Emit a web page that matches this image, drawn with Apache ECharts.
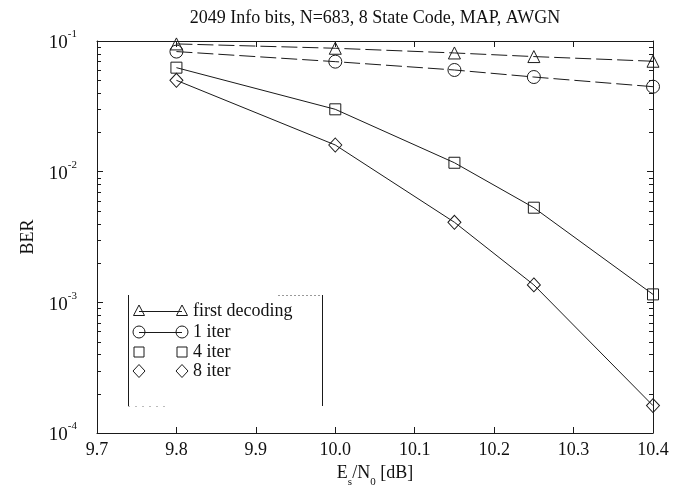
<!DOCTYPE html>
<html><head><meta charset="utf-8">
<script src="https://cdn.jsdelivr.net/npm/echarts@6/dist/echarts.min.js"></script>
<style>html,body{margin:0;padding:0;background:#fff}#c{width:684px;height:493px}</style>
</head><body><div id="c"></div>
<script>
// ---- data ----
const xValues = [9.8, 10.0, 10.15, 10.25, 10.4];
const firstDecoding = [0.095, 0.088, 0.081, 0.076, 0.070];
const iter1 = [0.083, 0.0695, 0.060, 0.053, 0.0447];
const iter4 = [0.0625, 0.030, 0.0117, 0.0053, 0.00115];
const iter8 = [0.050, 0.016, 0.0041, 0.00136, 0.000162];
const seriesNames = ['first decoding', '1 iter', '4 iter', '8 iter'];
const titleText = '2049 Info bits, N=683, 8 State Code, MAP, AWGN';
const xMin = 9.7, xMax = 10.4, xStep = 0.1;
const yMin = 1e-4, yMax = 1e-1;

const INK = '#1a1a1a';
const FONT = '"Liberation Serif", "DejaVu Serif", serif';

function pts(arr) { return xValues.map((x, i) => [x, arr[i]]); }

const triPath = 'path://M0,-1L0.9,0.75L-0.9,0.75Z';

const seriesDefs = [
  { name: seriesNames[0], data: firstDecoding, symbol: triPath, size: [12, 12], dash: [16, 5] },
  { name: seriesNames[1], data: iter1, symbol: 'circle', size: 13, dash: [16, 5] },
  { name: seriesNames[2], data: iter4, symbol: 'rect', size: 11, dash: 'solid' },
  { name: seriesNames[3], data: iter8, symbol: 'diamond', size: [13, 14], dash: 'solid' }
];

const chart = echarts.init(document.getElementById('c'), null, { renderer: 'canvas' });

const axisLineStyle = { color: INK, width: 1 };

const option = {
  animation: false,
  backgroundColor: '#fff',
  grid: { left: 97, right: 31, top: 41, bottom: 60 },
  xAxis: [
    {
      type: 'value', min: xMin, max: xMax, interval: xStep, position: 'bottom',
      axisLine: { lineStyle: axisLineStyle },
      axisTick: { inside: true, length: 6, lineStyle: axisLineStyle },
      splitLine: { show: false },
      axisLabel: { formatter: v => v.toFixed(1), fontFamily: FONT, fontSize: 18, color: '#111', margin: 8 },
      name: '{n|E}{s|s}{n|/N}{s|0}{n| [dB]}',
      nameLocation: 'middle', nameGap: 27,
      nameTextStyle: {
        rich: {
          n: { fontFamily: FONT, fontSize: 18, color: '#111', lineHeight: 20, verticalAlign: 'top' },
          s: { fontFamily: FONT, fontSize: 11, color: '#111', lineHeight: 12, verticalAlign: 'bottom', padding: [0, 0, -4, 0] }
        }
      }
    },
    {
      type: 'value', min: xMin, max: xMax, interval: xStep, position: 'top',
      axisLine: { lineStyle: axisLineStyle },
      axisTick: { inside: true, length: 6, lineStyle: axisLineStyle },
      axisLabel: { show: false }, splitLine: { show: false }
    }
  ],
  yAxis: [
    {
      type: 'log', logBase: 10, min: yMin, max: yMax, splitNumber: 3, position: 'left',
      axisLine: { lineStyle: axisLineStyle },
      axisTick: { inside: true, length: 6, lineStyle: axisLineStyle },
      splitLine: { show: false },
      axisLabel: {
        margin: 20,
        formatter: v => '{b|10}{s|' + Math.round(Math.log10(v)) + '}',
        rich: {
          b: { fontFamily: FONT, fontSize: 19, color: '#111', lineHeight: 24, verticalAlign: 'bottom' },
          s: { fontFamily: FONT, fontSize: 11, color: '#111', lineHeight: 12, verticalAlign: 'top' }
        }
      },
      name: 'BER', nameLocation: 'middle', nameGap: 60,
      nameTextStyle: { fontFamily: FONT, fontSize: 18, color: '#111' }
    },
    {
      type: 'log', logBase: 10, min: yMin, max: yMax, splitNumber: 3, position: 'right',
      axisLine: { lineStyle: axisLineStyle },
      axisTick: { inside: true, length: 6, lineStyle: axisLineStyle },
      axisLabel: { show: false }, splitLine: { show: false }
    }
  ],
  series: seriesDefs.map(d => ({
    name: d.name, type: 'line', xAxisIndex: 0, yAxisIndex: 0,
    data: pts(d.data),
    symbol: d.symbol, symbolSize: d.size, showSymbol: true,
    lineStyle: { color: INK, width: 1, type: d.dash },
    itemStyle: { color: 'rgba(0,0,0,0)', borderColor: INK, borderWidth: 1 },
    emphasis: { disabled: true },
    z: 3
  }))
};

chart.setOption(option);

// ---- minor log ticks (positions from the library's scale) ----
const gfx = [];
const xl = chart.convertToPixel({ xAxisIndex: 0 }, xMin);
const xr = chart.convertToPixel({ xAxisIndex: 0 }, xMax);
for (let d = -4; d < -1; d++) {
  for (let m = 2; m <= 9; m++) {
    const y = Math.round(chart.convertToPixel({ yAxisIndex: 0 }, m * Math.pow(10, d))) + 0.5;
    gfx.push({ type: 'line', shape: { x1: xl, y1: y, x2: xl + 4, y2: y }, style: { stroke: INK, lineWidth: 1 }, silent: true });
    gfx.push({ type: 'line', shape: { x1: xr, y1: y, x2: xr - 4, y2: y }, style: { stroke: INK, lineWidth: 1 }, silent: true });
  }
}

// ---- title ----
gfx.push({
  type: 'text', x: (xl + xr) / 2, y: 18,
  style: { text: titleText, font: '18px ' + FONT, fill: '#111', align: 'center', verticalAlign: 'middle' }
});

// ---- legend box ----
const lg = { left: 128, top: 295, right: 322, bottom: 406, x1: 139, x2: 182, tx: 193, rows: [311, 332, 352, 371] };
gfx.push({ type: 'line', shape: { x1: lg.left + 0.5, y1: lg.top, x2: lg.left + 0.5, y2: lg.bottom }, style: { stroke: INK, lineWidth: 1 } });
gfx.push({ type: 'line', shape: { x1: lg.right + 0.5, y1: lg.top, x2: lg.right + 0.5, y2: lg.bottom }, style: { stroke: INK, lineWidth: 1 } });
gfx.push({ type: 'line', shape: { x1: 278, y1: lg.top + 0.5, x2: lg.right, y2: lg.top + 0.5 }, style: { stroke: '#999', lineWidth: 1, lineDash: [2, 2] } });
gfx.push({ type: 'line', shape: { x1: lg.left, y1: lg.bottom + 0.5, x2: 165, y2: lg.bottom + 0.5 }, style: { stroke: '#bbb', lineWidth: 1, lineDash: [2, 5] } });

function marker(kind, cx, cy) {
  const st = { fill: 'none', stroke: INK, lineWidth: 1 };
  if (kind === 0) return { type: 'polygon', shape: { points: [[cx, cy - 6], [cx + 5.5, cy + 4.5], [cx - 5.5, cy + 4.5]] }, style: st };
  if (kind === 1) return { type: 'circle', shape: { cx: cx, cy: cy, r: 6 }, style: st };
  if (kind === 2) return { type: 'rect', shape: { x: cx - 5, y: cy - 5, width: 10, height: 10 }, style: st };
  return { type: 'polygon', shape: { points: [[cx, cy - 6.5], [cx + 6, cy], [cx, cy + 6.5], [cx - 6, cy]] }, style: st };
}
seriesNames.forEach((nm, i) => {
  const y = lg.rows[i];
  if (i < 2) gfx.push({ type: 'line', shape: { x1: lg.x1, y1: y + 0.5, x2: lg.x2, y2: y + 0.5 }, style: { stroke: INK, lineWidth: 1 } });
  gfx.push(marker(i, lg.x1, y));
  gfx.push(marker(i, lg.x2, y));
  gfx.push({ type: 'text', x: lg.tx, y: y, style: { text: nm, font: '18px ' + FONT, fill: '#111', align: 'left', verticalAlign: 'middle' } });
});

chart.setOption({ graphic: gfx });
</script>
</body></html>
